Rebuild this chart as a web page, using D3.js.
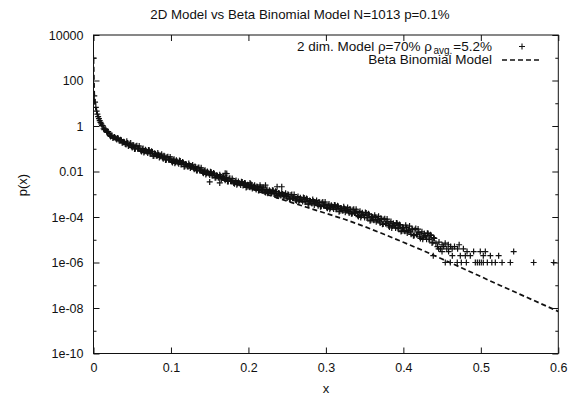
<!DOCTYPE html>
<html>
<head>
<meta charset="utf-8">
<script src="https://cdn.jsdelivr.net/npm/d3@7"></script>
<style>
  body { margin: 0; background: #fff; }
  text { font-family: "Liberation Sans", Arial, Helvetica, sans-serif; fill: #111; }
</style>
</head>
<body>
<div class="CHART"></div>
<script>
// tick values and their labels (gnuplot style)
var xTicks = [0, 0.1, 0.2, 0.3, 0.4, 0.5, 0.6];
var xTickLabels = ["0", "0.1", "0.2", "0.3", "0.4", "0.5", "0.6"];
var yTicks = [1e-10, 1e-8, 1e-6, 1e-4, 0.01, 1, 100, 10000];
var yTickLabels = ["1e-10", "1e-08", "1e-06", "1e-04", "0.01", "1", "100", "10000"];
var yMinorTicks = [1e-9, 1e-7, 1e-5, 1e-3, 0.1, 10, 1000];

// 2 dim. model, [x, log10 p(x)] (even steps)
var modelPoints = [
  [0,2.98],[0.001,1.32],[0.002,1.05],[0.003,0.82],[0.004,0.65],[0.005,0.52],[0.006,0.41],
  [0.007,0.32],[0.008,0.24],[0.009,0.16],[0.010,0.09],[0.011,0.03],
  [0.012,0.01],[0.014,-0.16],[0.016,-0.16],[0.018,-0.28],[0.020,-0.33],[0.022,-0.46],[0.024,-0.42],
  [0.026,-0.51],[0.028,-0.52],[0.030,-0.59],[0.032,-0.55],[0.034,-0.64],[0.036,-0.63],[0.038,-0.73],
  [0.040,-0.71],[0.042,-0.81],[0.044,-0.75],[0.046,-0.83],[0.048,-0.75],[0.050,-0.95],[0.052,-0.86],
  [0.054,-1.00],[0.056,-0.87],[0.058,-1.00],[0.060,-0.98],[0.062,-1.12],[0.064,-0.99],[0.066,-1.12],
  [0.068,-1.09],[0.070,-1.19],[0.072,-1.07],[0.074,-1.21],[0.076,-1.14],[0.078,-1.31],[0.080,-1.23],
  [0.082,-1.32],[0.084,-1.26],[0.086,-1.33],[0.088,-1.24],[0.090,-1.44],[0.092,-1.34],[0.094,-1.48],
  [0.096,-1.35],[0.098,-1.48],[0.100,-1.45],[0.102,-1.60],[0.104,-1.46],[0.106,-1.59],[0.108,-1.56],
  [0.110,-1.66],[0.112,-1.54],[0.114,-1.67],[0.116,-1.61],[0.118,-1.77],[0.120,-1.69],[0.122,-1.79],
  [0.124,-1.72],[0.126,-1.79],[0.128,-1.71],[0.130,-1.90],[0.132,-1.81],[0.134,-1.96],[0.136,-1.82],
  [0.138,-1.96],[0.140,-1.93],[0.142,-2.08],[0.144,-1.94],[0.146,-2.08],[0.148,-2.05],[0.150,-2.15],
  [0.152,-2.03],[0.154,-2.17],[0.156,-2.10],[0.158,-2.26],[0.160,-2.19],[0.162,-2.28],[0.164,-2.21],
  [0.166,-2.29],[0.168,-2.20],[0.170,-2.39],[0.172,-2.29],[0.174,-2.44],[0.176,-2.30],[0.178,-2.43],
  [0.180,-2.40],[0.182,-2.54],[0.184,-2.40],[0.186,-2.53],[0.188,-2.50],[0.190,-2.59],[0.192,-2.46],
  [0.194,-2.59],[0.196,-2.52],[0.198,-2.68],[0.200,-2.60],[0.202,-2.69],[0.204,-2.62],[0.206,-2.69],
  [0.208,-2.60],[0.210,-2.79],[0.212,-2.68],[0.214,-2.82],[0.216,-2.68],[0.218,-2.81],[0.220,-2.78],
  [0.222,-2.92],[0.224,-2.78],[0.226,-2.91],[0.228,-2.87],[0.230,-2.96],[0.232,-2.84],[0.234,-2.97],
  [0.236,-2.90],[0.238,-3.05],[0.240,-2.97],[0.242,-3.06],[0.244,-2.99],[0.246,-3.05],[0.248,-2.96],
  [0.250,-3.17],[0.252,-3.03],[0.254,-3.20],[0.256,-3.01],[0.258,-3.17],[0.260,-3.12],[0.262,-3.29],
  [0.264,-3.10],[0.266,-3.26],[0.268,-3.22],[0.270,-3.32],[0.272,-3.16],[0.274,-3.32],[0.276,-3.22],
  [0.278,-3.42],[0.280,-3.30],[0.282,-3.41],[0.284,-3.31],[0.286,-3.39],[0.288,-3.27],[0.290,-3.50],
  [0.292,-3.36],[0.294,-3.53],[0.296,-3.34],[0.298,-3.50],[0.300,-3.45],[0.302,-3.62],[0.304,-3.43],
  [0.306,-3.59],[0.308,-3.54],[0.310,-3.65],[0.312,-3.48],[0.314,-3.64],[0.316,-3.54],[0.318,-3.74],
  [0.320,-3.62],[0.322,-3.73],[0.324,-3.63],[0.326,-3.71],[0.328,-3.58],[0.330,-3.82],[0.332,-3.68],
  [0.334,-3.85],[0.336,-3.66],[0.338,-3.82],[0.340,-3.76],[0.342,-3.98],[0.344,-3.75],[0.346,-3.94],
  [0.348,-3.89],[0.350,-4.02],[0.352,-3.82],[0.354,-4.02],[0.356,-3.90],[0.358,-4.14],[0.360,-4.00],
  [0.362,-4.14],[0.364,-4.02],[0.366,-4.12],[0.368,-3.97],[0.370,-4.26],[0.372,-4.09],[0.374,-4.31],
  [0.376,-4.08],[0.378,-4.28],[0.380,-4.22],[0.382,-4.44],[0.384,-4.20],[0.386,-4.40],[0.388,-4.35],
  [0.390,-4.48],[0.392,-4.28],[0.394,-4.48],[0.396,-4.36],[0.398,-4.61],[0.400,-4.47],[0.402,-4.63],
  [0.404,-4.47],[0.406,-4.60],[0.408,-4.40],[0.410,-4.76],[0.412,-4.55],[0.414,-4.81],[0.416,-4.51],
  [0.418,-4.76],[0.420,-4.68],[0.422,-4.94],[0.424,-4.65],[0.426,-4.89],[0.428,-4.82],[0.430,-4.98],
  [0.432,-4.72],[0.434,-4.97],[0.436,-4.81],[0.438,-5.11],[0.440,-4.94]
];

// same model, the odd steps in between
var modelPointsOdd = [
  [0.013,-0.12],[0.015,-0.12],[0.017,-0.25],[0.019,-0.25],[0.021,-0.41],[0.023,-0.42],[0.025,-0.53],
  [0.027,-0.48],[0.029,-0.55],[0.031,-0.53],[0.033,-0.64],[0.035,-0.60],[0.037,-0.74],[0.039,-0.69],
  [0.041,-0.79],[0.043,-0.67],[0.045,-0.88],[0.047,-0.83],[0.049,-0.89],[0.051,-0.83],[0.053,-1.01],
  [0.055,-0.88],[0.057,-1.00],[0.059,-0.88],[0.061,-1.08],[0.063,-1.02],[0.065,-1.17],[0.067,-1.04],
  [0.069,-1.13],[0.071,-1.05],[0.073,-1.22],[0.075,-1.11],[0.077,-1.32],[0.079,-1.20],[0.081,-1.30],
  [0.083,-1.19],[0.085,-1.38],[0.087,-1.32],[0.089,-1.38],[0.091,-1.31],[0.093,-1.49],[0.095,-1.36],
  [0.097,-1.48],[0.099,-1.36],[0.101,-1.56],[0.103,-1.50],[0.105,-1.64],[0.107,-1.51],[0.109,-1.60],
  [0.111,-1.52],[0.113,-1.69],[0.115,-1.58],[0.117,-1.79],[0.119,-1.67],[0.121,-1.77],[0.123,-1.65],
  [0.125,-1.85],[0.127,-1.79],[0.129,-1.84],[0.131,-1.78],[0.133,-1.96],[0.135,-1.83],[0.137,-1.96],
  [0.139,-1.84],[0.141,-2.04],[0.143,-1.98],[0.145,-2.13],[0.147,-2.00],[0.149,-2.09],[0.151,-2.01],
  [0.153,-2.18],[0.155,-2.07],[0.157,-2.28],[0.159,-2.16],[0.161,-2.26],[0.163,-2.14],[0.165,-2.34],
  [0.167,-2.28],[0.169,-2.33],[0.171,-2.27],[0.173,-2.44],[0.175,-2.31],[0.177,-2.43],[0.179,-2.31],
  [0.181,-2.50],[0.183,-2.44],[0.185,-2.58],[0.187,-2.44],[0.189,-2.53],[0.191,-2.45],[0.193,-2.61],
  [0.195,-2.50],[0.197,-2.70],[0.199,-2.58],[0.201,-2.68],[0.203,-2.55],[0.205,-2.75],[0.207,-2.68],
  [0.209,-2.73],[0.211,-2.66],[0.213,-2.83],[0.215,-2.70],[0.217,-2.81],[0.219,-2.69],[0.221,-2.89],
  [0.223,-2.82],[0.225,-2.96],[0.227,-2.82],[0.229,-2.91],[0.231,-2.82],[0.233,-2.99],[0.235,-2.87],
  [0.237,-3.08],[0.239,-2.95],[0.241,-3.04],[0.243,-2.92],[0.245,-3.11],[0.247,-3.04],[0.249,-3.09],
  [0.251,-3.00],[0.253,-3.21],[0.255,-3.03],[0.257,-3.18],[0.259,-3.01],[0.261,-3.25],[0.263,-3.16],
  [0.265,-3.33],[0.267,-3.15],[0.269,-3.25],[0.271,-3.14],[0.273,-3.34],[0.275,-3.19],[0.277,-3.44],
  [0.279,-3.28],[0.281,-3.39],[0.283,-3.23],[0.285,-3.47],[0.287,-3.37],[0.289,-3.43],[0.291,-3.34],
  [0.293,-3.55],[0.295,-3.37],[0.297,-3.51],[0.299,-3.34],[0.301,-3.58],[0.303,-3.49],[0.305,-3.66],
  [0.307,-3.48],[0.309,-3.58],[0.311,-3.47],[0.313,-3.66],[0.315,-3.51],[0.317,-3.77],[0.319,-3.60],
  [0.321,-3.71],[0.323,-3.55],[0.325,-3.79],[0.327,-3.69],[0.329,-3.75],[0.331,-3.65],[0.333,-3.86],
  [0.335,-3.68],[0.337,-3.82],[0.339,-3.66],[0.341,-3.93],[0.343,-3.81],[0.345,-4.02],[0.347,-3.81],
  [0.349,-3.93],[0.351,-3.80],[0.353,-4.04],[0.355,-3.86],[0.357,-4.17],[0.359,-3.97],[0.361,-4.12],
  [0.363,-3.92],[0.365,-4.21],[0.367,-4.10],[0.369,-4.17],[0.371,-4.06],[0.373,-4.32],[0.375,-4.11],
  [0.377,-4.29],[0.379,-4.09],[0.381,-4.38],[0.383,-4.27],[0.385,-4.48],[0.387,-4.27],[0.389,-4.39],
  [0.391,-4.26],[0.393,-4.51],[0.395,-4.33],[0.397,-4.64],[0.399,-4.44],[0.401,-4.60],[0.403,-4.36],
  [0.405,-4.70],[0.407,-4.57],[0.409,-4.65],[0.411,-4.52],[0.413,-4.82],[0.415,-4.56],[0.417,-4.77],
  [0.419,-4.53],[0.421,-4.87],[0.423,-4.74],[0.425,-4.98],[0.427,-4.72],[0.429,-4.87],[0.431,-4.71],
  [0.433,-4.99],[0.435,-4.78],[0.437,-5.14],[0.439,-4.91]
];

// tail where the counts get discrete, plus stray points off the band
var modelTail = [
  [0.442,-5.15],[0.444,-5.30],[0.446,-5.10],[0.448,-5.40],[0.450,-5.22],[0.452,-5.30],[0.454,-5.15],
  [0.456,-5.40],[0.458,-5.22],[0.461,-5.30],[0.463,-5.40],[0.466,-5.30],[0.470,-5.40],[0.472,-5.22],
  [0.4455,-5.40],[0.4775,-5.40],
  [0.4499,-5.52],[0.4584,-5.52],[0.4822,-5.52],[0.4907,-5.52],[0.4993,-5.52],[0.5058,-5.52],[0.5424,-5.52],
  [0.4386,-5.70],[0.4632,-5.70],[0.4735,-5.70],[0.4800,-5.70],[0.4864,-5.70],[0.5032,-5.70],[0.5123,-5.70],[0.5230,-5.70],
  [0.4541,-6],[0.4606,-6],[0.4696,-6],[0.4748,-6],[0.4813,-6],[0.4929,-6],[0.4955,-6],[0.4981,-6],[0.5006,-6],
  [0.5032,-6],[0.5084,-6],[0.5142,-6],[0.5187,-6],[0.5274,-6],[0.5381,-6],[0.5682,-6],[0.5941,-6],
  [0.150,-2.46],[0.163,-2.50],[0.170,-2.08],[0.172,-2.09],[0.202,-2.50],[0.215,-2.60],[0.222,-2.60],
  [0.237,-2.67],[0.243,-2.67]
];

// beta binomial model, [x, log10 p(x)]
var betaPoints = [
  [0,2.95],[0.001,1.40],[0.002,1.02],[0.003,0.80],[0.005,0.50],[0.0075,0.25],[0.010,0.08],
  [0.015,-0.17],[0.020,-0.35],[0.030,-0.56],[0.040,-0.72],[0.050,-0.88],[0.060,-1.00],[0.075,-1.19],
  [0.100,-1.48],[0.125,-1.78],[0.150,-2.10],[0.175,-2.41],[0.200,-2.72],[0.225,-3.02],[0.250,-3.30],
  [0.275,-3.57],[0.300,-3.84],[0.325,-4.11],[0.350,-4.42],[0.375,-4.76],[0.400,-5.11],[0.425,-5.47],
  [0.450,-5.85],[0.475,-6.23],[0.500,-6.62],[0.525,-7.01],[0.550,-7.39],[0.575,-7.77],[0.600,-8.15]
];

var W = 568, H = 396;
var plot = {left: 93.5, right: 558.3, top: 35, bottom: 353.5};

var svg = d3.select(".CHART").append("svg")
  .attr("width", W)
  .attr("height", H)
  .style("display", "block");

svg.append("rect").attr("width", W).attr("height", H).attr("fill", "#fff");

var x = d3.scaleLinear().domain([0, 0.6]).range([plot.left, plot.right]);
var y = d3.scaleLog().domain([1e-10, 1e4]).range([plot.bottom, plot.top]);

// title
svg.append("text")
  .attr("x", 300)
  .attr("y", 18.5)
  .attr("text-anchor", "middle")
  .style("font-size", "13.3px")
  .text("2D Model vs Beta Binomial Model N=1013 p=0.1%");

// axes, ticks pointing inward on all four sides
function styleAxis(g) {
  g.select(".domain").remove();
  g.selectAll("line").attr("stroke", "#111");
  g.selectAll("text").style("font-size", "12.5px").style("font-family", "Liberation Sans, Arial, sans-serif").attr("fill", "#111");
}

svg.append("g")
  .attr("transform", "translate(0," + plot.bottom + ")")
  .call(d3.axisBottom(x).tickValues(xTicks).tickSizeInner(-6).tickSizeOuter(0).tickPadding(10)
    .tickFormat(function(d, i) { return xTickLabels[i]; }))
  .call(styleAxis);

svg.append("g")
  .attr("transform", "translate(0," + plot.top + ")")
  .call(d3.axisTop(x).tickValues(xTicks).tickSizeInner(-6).tickSizeOuter(0).tickFormat(""))
  .call(styleAxis);

svg.append("g")
  .attr("transform", "translate(" + plot.left + ",0)")
  .call(d3.axisLeft(y).tickValues(yTicks).tickSizeInner(-6).tickSizeOuter(0).tickPadding(10)
    .tickFormat(function(d, i) { return yTickLabels[i]; }))
  .call(styleAxis);

svg.append("g")
  .attr("transform", "translate(" + plot.left + ",0)")
  .call(d3.axisLeft(y).tickValues(yMinorTicks).tickSizeInner(-3).tickSizeOuter(0).tickFormat(""))
  .call(styleAxis);

svg.append("g")
  .attr("transform", "translate(" + plot.right + ",0)")
  .call(d3.axisRight(y).tickValues(yTicks).tickSizeInner(-6).tickSizeOuter(0).tickFormat(""))
  .call(styleAxis);

svg.append("g")
  .attr("transform", "translate(" + plot.right + ",0)")
  .call(d3.axisRight(y).tickValues(yMinorTicks).tickSizeInner(-3).tickSizeOuter(0).tickFormat(""))
  .call(styleAxis);

// axis titles
svg.append("text")
  .attr("x", (plot.left + plot.right) / 2)
  .attr("y", 392.5)
  .attr("text-anchor", "middle")
  .style("font-size", "13px")
  .text("x");

svg.append("text")
  .attr("transform", "translate(27,185) rotate(-90)")
  .attr("text-anchor", "middle")
  .style("font-size", "13px")
  .text("p(x)");

// data, clipped to the frame
svg.append("clipPath").attr("id", "frame")
  .append("rect")
  .attr("x", plot.left).attr("y", plot.top)
  .attr("width", plot.right - plot.left).attr("height", plot.bottom - plot.top);

var area = svg.append("g").attr("clip-path", "url(#frame)");

var line = d3.line()
  .x(function(d) { return x(d[0]); })
  .y(function(d) { return y(Math.pow(10, d[1])); });

area.append("path")
  .datum(betaPoints)
  .attr("d", line)
  .attr("fill", "none")
  .attr("stroke", "#111")
  .attr("stroke-width", 1.7)
  .attr("stroke-dasharray", "5,3");

var cross = "M-3,0H3M0,-3V3";
var allModel = modelPoints.concat(modelPointsOdd, modelTail);

area.selectAll(".pt")
  .data(allModel)
  .enter()
  .append("path")
  .attr("class", "pt")
  .attr("d", cross)
  .attr("transform", function(d) { return "translate(" + x(d[0]) + "," + y(Math.pow(10, d[1])) + ")"; })
  .attr("stroke", "#111")
  .attr("stroke-width", 1.2)
  .attr("fill", "none");

// frame
svg.append("rect")
  .attr("x", plot.left).attr("y", plot.top)
  .attr("width", plot.right - plot.left).attr("height", plot.bottom - plot.top)
  .attr("fill", "none")
  .attr("stroke", "#111")
  .attr("stroke-width", 1);

// legend, right aligned like gnuplot's key
var key = svg.append("g");
var row1 = key.append("text")
  .attr("x", 492).attr("y", 50.5)
  .attr("text-anchor", "end")
  .style("font-size", "13.5px");
row1.append("tspan").text("2 dim. Model \u03c1=70% \u03c1");
row1.append("tspan").attr("dx", 1.5).attr("dy", 3).style("font-size", "10px").text("avg.");
row1.append("tspan").attr("dx", 1).attr("dy", -3).text("=5.2%");

key.append("path")
  .attr("d", cross)
  .attr("transform", "translate(522,46.5)")
  .attr("stroke", "#111")
  .attr("stroke-width", 1.1)
  .attr("fill", "none");

key.append("text")
  .attr("x", 492).attr("y", 64)
  .attr("text-anchor", "end")
  .style("font-size", "13.5px")
  .text("Beta Binomial Model");

key.append("line")
  .attr("x1", 502).attr("x2", 542)
  .attr("y1", 60).attr("y2", 60)
  .attr("stroke", "#111")
  .attr("stroke-width", 1.7)
  .attr("stroke-dasharray", "5,3");
</script>
</body>
</html>
